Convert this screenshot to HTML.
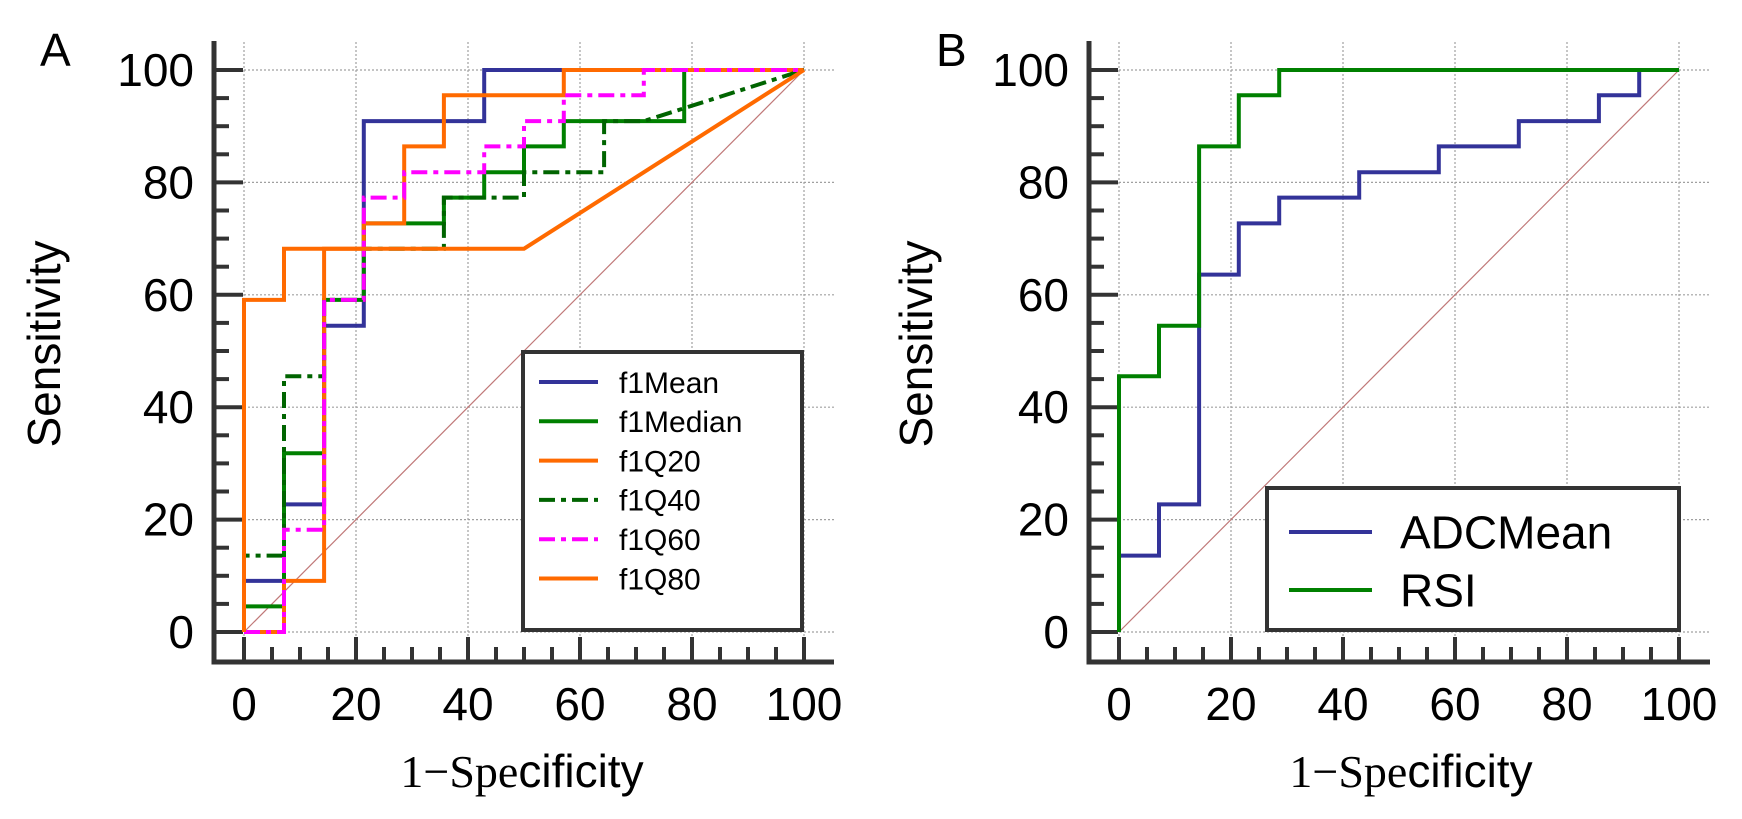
<!DOCTYPE html>
<html><head><meta charset="utf-8"><style>
html,body{margin:0;padding:0;background:#fff;}
svg{display:block;}
text{font-family:"Liberation Sans",sans-serif;fill:#000;}
</style></head><body>
<svg id="chart" width="1742" height="819" viewBox="0 0 1742 819" xmlns="http://www.w3.org/2000/svg"></svg>
<script>
// Panel A data (x = 1-Specificity, y = Sensitivity)
const aMeanX = [0,0,7.14,7.14,14.3,14.3,21.4,21.4,42.9,42.9,100];
const aMeanY = [0,9.09,9.09,22.7,22.7,54.5,54.5,90.9,90.9,100,100];
const aMedianX = [0,0,7.14,7.14,14.3,14.3,21.4,21.4,35.7,35.7,42.9,42.9,50,50,57.1,57.1,78.6,78.6,100];
const aMedianY = [0,4.55,4.55,31.8,31.8,59.1,59.1,72.7,72.7,77.3,77.3,81.8,81.8,86.4,86.4,90.9,90.9,100,100];
const aQ20X = [0,7.14,7.14,14.3,14.3,21.4,21.4,28.6,28.6,35.7,35.7,57.1,57.1,100];
const aQ20Y = [0,0,9.09,9.09,68.2,68.2,72.7,72.7,86.4,86.4,95.5,95.5,100,100];
const aQ40X = [0,0,7.14,7.14,14.3,14.3,21.4,21.4,35.7,35.7,50,50,64.3,64.3,71.4,100];
const aQ40Y = [0,13.6,13.6,45.5,45.5,59.1,59.1,68.2,68.2,77.3,77.3,81.8,81.8,90.9,90.9,100];
const aQ60X = [0,7.14,7.14,14.3,14.3,21.4,21.4,28.6,28.6,42.9,42.9,50,50,57.1,57.1,71.4,71.4,100];
const aQ60Y = [0,0,18.2,18.2,59.1,59.1,77.3,77.3,81.8,81.8,86.4,86.4,90.9,90.9,95.5,95.5,100,100];
const aQ80X = [0,0,7.14,7.14,50,100];
const aQ80Y = [0,59.1,59.1,68.2,68.2,100];
// Panel B data
const bAdcX = [0,0,7.14,7.14,14.3,14.3,21.4,21.4,28.6,28.6,42.9,42.9,57.1,57.1,71.4,71.4,85.7,85.7,92.9,92.9,100];
const bAdcY = [0,13.6,13.6,22.7,22.7,63.6,63.6,72.7,72.7,77.3,77.3,81.8,81.8,86.4,86.4,90.9,90.9,95.5,95.5,100,100];
const bRsiX = [0,0,7.14,7.14,14.3,14.3,21.4,21.4,28.6,28.6,100];
const bRsiY = [0,45.5,45.5,54.5,54.5,86.4,86.4,95.5,95.5,100,100];
const tickValues = [0,20,40,60,80,100];
const aNames = ["f1Mean","f1Median","f1Q20","f1Q40","f1Q60","f1Q80"];
const bNames = ["ADCMean","RSI"];

const NS="http://www.w3.org/2000/svg";
const svg=document.getElementById('chart');
function el(tag,attrs,parent){const e=document.createElementNS(NS,tag);for(const k in attrs)e.setAttribute(k,attrs[k]);(parent||svg).appendChild(e);return e;}

function panel(cfg){
  const g=el('g',{});
  
  
  const sx=v=>cfg.x0+(cfg.x1-cfg.x0)*v/100;
  const sy=v=>cfg.y0+(cfg.y1-cfg.y0)*v/100;
  // grid
  tickValues.forEach(t=>{
    const gv=el('line',{x1:sx(t),x2:sx(t),y1:cfg.y1-28,y2:sy(0)+4,stroke:'#a0a0a0','stroke-width':1.2,'stroke-dasharray':'2 2'},g);
    
    
    const gh=el('line',{x1:sx(0),x2:sx(100)+30,y1:sy(t),y2:sy(t),stroke:'#a0a0a0','stroke-width':1.2,'stroke-dasharray':'2 2'},g);
    
    
  });
  // diagonal
  const d=el('line',{x1:sx(0),y1:sy(0),x2:sx(100),y2:sy(100),stroke:'#c07878','stroke-width':1.2},g);
  
  
  // axes
  const ya=el('line',{x1:cfg.ax,x2:cfg.ax,y1:cfg.y1-29,y2:cfg.axY+2.5,stroke:'#333','stroke-width':5},g);
  
  
  const xa=el('line',{x1:cfg.ax-2.5,x2:cfg.xEnd,y1:cfg.axY,y2:cfg.axY,stroke:'#333','stroke-width':5},g);
  
  
  for(let v=0;v<=100;v+=5){
    const major=v%20===0;
    const ty=el('line',{x1:cfg.ax,x2:cfg.ax+(major?29:15),y1:sy(v),y2:sy(v),stroke:'#333','stroke-width':4},g);
    
    
    const tx=el('line',{x1:sx(v),x2:sx(v),y1:cfg.axY,y2:cfg.axY-(major?25:15),stroke:'#333','stroke-width':4},g);
    
    
  }
  tickValues.forEach(t=>{
    const ly=el('text',{x:cfg.ax-20,y:sy(t)+16,'font-size':46,'text-anchor':'end'},g);
    ly.textContent=t;
    
    
    const lx=el('text',{x:sx(t),y:720,'font-size':46,'text-anchor':'middle'},g);
    lx.textContent=t;
    
    
  });
  // titles
  const yt=el('text',{x:0,y:0,'font-size':46,'text-anchor':'middle',transform:`translate(${cfg.ytx},344) rotate(-90)`},g);
  yt.textContent='Sensitivity';
  
  
  const xt=el('text',{x:cfg.xtx,y:787,'font-size':46,'text-anchor':'middle'},g);
  
  
  const s1=el('tspan',{'font-family':'"Liberation Serif",serif'},xt); s1.textContent='1−Spe';
  const s2=el('tspan',{},xt); s2.textContent='cificity';
  const pl=el('text',{x:cfg.plx,y:66,'font-size':46},g);
  pl.textContent=cfg.label;
  
  
  // series
  cfg.series.forEach(s=>{
    const pts=s.xs.map((x,i)=>sx(x).toFixed(1)+','+sy(s.ys[i]).toFixed(1)).join(' ');
    const p=el('polyline',{points:pts,fill:'none',stroke:s.color,'stroke-width':4,'stroke-dasharray':s.dash||'none'},g);
    
    
  });
  // legend
  const lg=el('g',{},g);
  
  
  el('rect',{x:cfg.lg.x,y:cfg.lg.y,width:cfg.lg.w,height:cfg.lg.h,fill:'#fff',stroke:'#333','stroke-width':4},lg);
  cfg.series.forEach((s,i)=>{
    const yy=cfg.lg.row0+i*cfg.lg.dy;
    const ln=el('line',{x1:cfg.lg.lx1,x2:cfg.lg.lx2,y1:yy,y2:yy,stroke:s.color,'stroke-width':4,'stroke-dasharray':s.dash||'none'},lg);
    
    
    const tx=el('text',{x:cfg.lg.tx,y:yy+cfg.lg.fs*0.36,'font-size':cfg.lg.fs},lg);
    tx.textContent=s.name;
    
    
  });
}
const dd='16 6 5 6';
panel({name:'panel-a',label:'A',plx:40,x0:244,x1:804,y0:632,y1:70,ax:214,axY:662,xEnd:834,ytx:60,xtx:522,
  series:[
    {name:aNames[0],xs:aMeanX,ys:aMeanY,color:'#333399'},
    {name:aNames[1],xs:aMedianX,ys:aMedianY,color:'#008000'},
    {name:aNames[2],xs:aQ20X,ys:aQ20Y,color:'#ff6a00'},
    {name:aNames[3],xs:aQ40X,ys:aQ40Y,color:'#006400',dash:dd},
    {name:aNames[4],xs:aQ60X,ys:aQ60Y,color:'#ff00ff',dash:dd},
    {name:aNames[5],xs:aQ80X,ys:aQ80Y,color:'#ff6a00'}],
  lg:{x:523,y:352,w:279,h:278,row0:382,dy:39.3,lx1:539,lx2:598,tx:619,fs:30}});
panel({name:'panel-b',label:'B',plx:936,x0:1119,x1:1679,y0:632,y1:70,ax:1089,axY:662,xEnd:1710,ytx:932,xtx:1411,
  series:[
    {name:bNames[0],xs:bAdcX,ys:bAdcY,color:'#333399'},
    {name:bNames[1],xs:bRsiX,ys:bRsiY,color:'#008000'}],
  lg:{x:1267,y:488,w:412,h:142,row0:532,dy:58,lx1:1289,lx2:1372,tx:1400,fs:46}});
</script>
</body></html>
